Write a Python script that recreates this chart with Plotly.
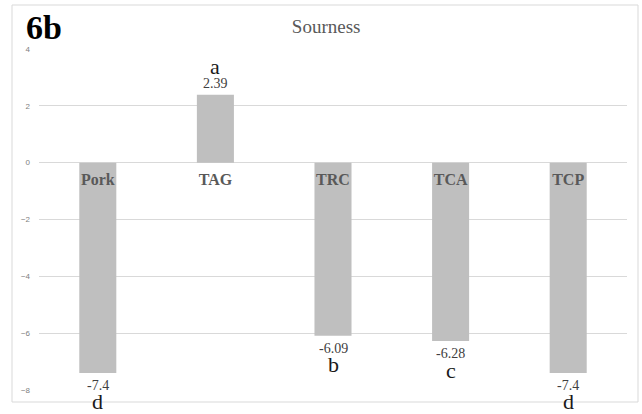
import plotly.graph_objects as go

categories = ["Pork", "TAG", "TRC", "TCA", "TCP"]
values = [-7.4, 2.39, -6.09, -6.28, -7.4]
value_labels = ["-7.4", "2.39", "-6.09", "-6.28", "-7.4"]
letters = ["d", "a", "b", "c", "d"]
y_ticks = [-8, -6, -4, -2, 0, 2, 4]

SERIF = "Liberation Serif, Times New Roman, serif"

fig = go.Figure()
fig.add_trace(go.Bar(
    x=categories, y=values,
    marker=dict(color="#bfbfbf", line=dict(width=0)),
    hoverinfo="skip", cliponaxis=False,
))

annotations = []
for c, v, vl, l in zip(categories, values, value_labels, letters):
    if v >= 0:
        annotations.append(dict(x=c, y=v, xref="x", yref="y", text=vl, showarrow=False,
                                yanchor="bottom", yshift=2,
                                font=dict(family=SERIF, size=14, color="#404040")))
        annotations.append(dict(x=c, y=v, xref="x", yref="y", text=l, showarrow=False,
                                yanchor="middle", yshift=28,
                                font=dict(family=SERIF, size=22, color="#1a1a1a")))
    else:
        annotations.append(dict(x=c, y=v, xref="x", yref="y", text=vl, showarrow=False,
                                yanchor="top", yshift=-3,
                                font=dict(family=SERIF, size=14, color="#404040")))
        annotations.append(dict(x=c, y=v, xref="x", yref="y", text=l, showarrow=False,
                                yanchor="middle", yshift=-29,
                                font=dict(family=SERIF, size=22, color="#1a1a1a")))

annotations.append(dict(x=-0.026, y=1.062, xref="paper", yref="paper", text="<b>6b</b>",
                        showarrow=False, xanchor="left", yanchor="middle",
                        font=dict(family=SERIF, size=34, color="#000000")))

fig.update_layout(
    width=642, height=414,
    margin=dict(l=39, r=15, t=49, b=24),
    paper_bgcolor="white", plot_bgcolor="white",
    showlegend=False,
    bargap=0.685,
    title=dict(text="Sourness", x=0.508, xref="container", xanchor="center",
               y=1 - 26 / 414, yref="container", yanchor="middle",
               font=dict(family=SERIF, size=19, color="#595959")),
    xaxis=dict(anchor="free", position=2 / 3, showgrid=False, showline=False,
               zeroline=False, ticks="", ticklabelstandoff=5,
               tickfont=dict(family=SERIF, size=16, color="#595959", weight="bold")),
    yaxis=dict(range=[-8, 4], tickvals=y_ticks, showgrid=True, gridcolor="#d9d9d9",
               gridwidth=1, zeroline=False, showline=False, ticks="",
               ticklabelstandoff=8,
               tickfont=dict(family="Liberation Sans, Arial, sans-serif", size=8, color="#808080")),
    annotations=annotations,
    shapes=[dict(type="rect", xref="paper", yref="paper",
                 x0=(12 - 39) / 588, x1=(638 - 39) / 588,
                 y0=(390 - 402) / 341, y1=(390 - 5) / 341,
                 line=dict(color="#d9d9d9", width=1), layer="below")],
)

fig.write_html("out.html", config={"displayModeBar": False},
               post_script="document.body.style.margin='0';")
